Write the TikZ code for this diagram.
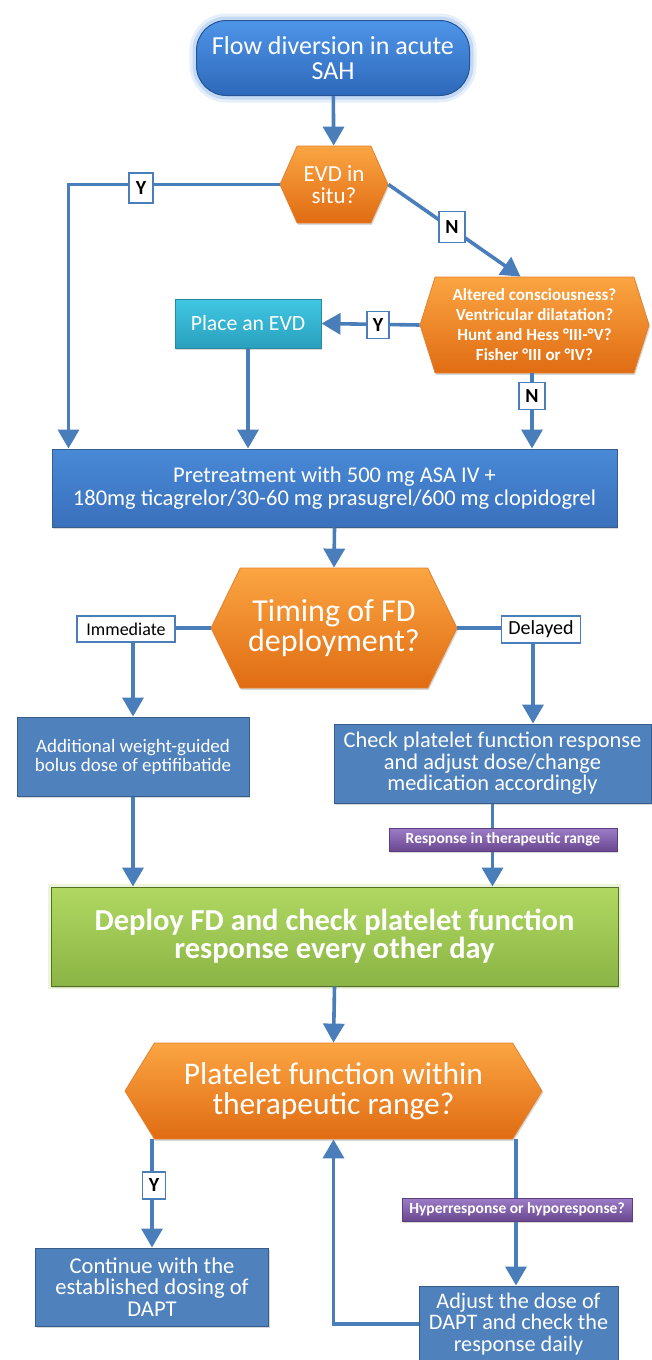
\documentclass[tikz,border=0pt]{standalone}
\usepackage{fontspec}
\setmainfont{Carlito}
\usetikzlibrary{arrows.meta,shapes.symbols,shadows,calc}
\newcommand{\myfs}[2]{\fontsize{#1}{#2}\selectfont}
\definecolor{lineblue}{HTML}{4A7EBB}
\definecolor{boxblue}{HTML}{4F81BD}
\definecolor{boxblueb}{HTML}{385D8A}
\definecolor{pretop}{HTML}{4889D6}
\definecolor{prebot}{HTML}{3A70BC}
\definecolor{starttop}{HTML}{4E95E8}
\definecolor{startbot}{HTML}{2E68BA}
\definecolor{startglow}{HTML}{9CC0EE}
\definecolor{orgtop}{HTML}{FBA542}
\definecolor{orgbot}{HTML}{E06C12}
\definecolor{orgb}{HTML}{E38230}
\definecolor{tealtop}{HTML}{40C7E3}
\definecolor{tealbot}{HTML}{29A0BD}
\definecolor{tealb}{HTML}{2A88A0}
\definecolor{grntop}{HTML}{B0D862}
\definecolor{grnbot}{HTML}{8AB444}
\definecolor{grnb}{HTML}{556F28}
\definecolor{purtop}{HTML}{9E7DC8}
\definecolor{purbot}{HTML}{6A4890}
\definecolor{purb}{HTML}{5A3F80}
\tikzset{
  shd/.style={drop shadow={shadow xshift=1.2pt,shadow yshift=-1.8pt,opacity=0.3}},
  bluebox/.style={rectangle, fill=boxblue, draw=boxblueb, line width=1pt, text=white, align=center, inner sep=2pt, shd},
  prebox/.style={rectangle, top color=pretop, bottom color=prebot, draw=boxblueb, line width=1pt, text=white, align=center, inner sep=2pt, shd},
  startbox/.style={rectangle, rounded corners=30pt, top color=starttop, bottom color=startbot, draw=startbot!80!black, line width=1pt, text=white, align=center,
     preaction={draw=startglow, line width=14pt, opacity=0.25},
     preaction={draw=startglow, line width=8pt, opacity=0.45}},
  hexbox/.style={signal, signal to=west and east, top color=orgtop, bottom color=orgbot, draw=orgb, line width=0.8pt, text=white, align=center, inner sep=1pt, shd},
  tealbox/.style={rectangle, top color=tealtop, bottom color=tealbot, draw=tealb, line width=1pt, text=white, align=center, shd},
  greenbox/.style={rectangle, top color=grntop, bottom color=grnbot, draw=grnb, line width=1pt, text=white, align=center, shd,
     preaction={draw=grntop!60!white, line width=6pt, opacity=0.4}},
  purbox/.style={rectangle, top color=purtop, bottom color=purbot, draw=purb, line width=0.8pt, text=white, align=center, inner sep=1pt, font=\myfs{15.5}{16}\bfseries, shd},
  lab/.style={rectangle, fill=white, draw=lineblue, line width=1.6pt, text=black, inner sep=1pt, align=center},
  yn/.style={lab, font=\myfs{20}{20}\bfseries},
  conn/.style={draw=lineblue, line width=3.6pt, -{Triangle[width=21pt,length=19pt]}},
}
\begin{document}
\begin{tikzpicture}[x=1pt,y=-1pt]
\useasboundingbox[fill=white] (0,0) rectangle (651,1360);
% nodes
\node[startbox, minimum width=273pt, minimum height=75pt, font=\myfs{26}{25}] (start) at (333,58) {Flow diversion in acute\\SAH};
\node[hexbox, signal pointer angle=132, minimum width=108pt, minimum height=77pt, font=\myfs{23}{22}] (evd) at (334,184.5) {EVD in\\situ?};
\node[hexbox, signal pointer angle=145, minimum width=229pt, minimum height=96pt, font=\myfs{17}{20}\bfseries] (alt) at (534.5,325) {Altered consciousness?\\Ventricular dilatation?\\Hunt and Hess °III-°V?\\Fisher °III or °IV?};
\node[tealbox, minimum width=146pt, minimum height=49pt, font=\myfs{21.7}{22}] (place) at (248,323.5) {Place an EVD};
\node[prebox, minimum width=565pt, minimum height=78pt, font=\myfs{22.5}{23}] (pre) at (334.5,488) {Pretreatment with 500 mg ASA IV +\\180mg ticagrelor/30-60 mg prasugrel/600 mg clopidogrel};
\node[hexbox, signal pointer angle=128, minimum width=246pt, minimum height=120pt, font=\myfs{32}{30}] (timing) at (334,628) {Timing of FD\\deployment?};
\node[bluebox, minimum width=232pt, minimum height=79pt, font=\myfs{19}{19}] (add) at (133,756.5) {Additional weight-guided\\bolus dose of eptifibatide};
\node[bluebox, minimum width=317pt, minimum height=79pt, font=\myfs{22.4}{21.5}] (check) at (492.5,763.5) {Check platelet function response\\and adjust dose/change\\medication accordingly};
\node[greenbox, minimum width=567pt, minimum height=99pt, font=\myfs{30.5}{28}\bfseries] (green) at (334.5,936.5) {Deploy FD and check platelet function\\response every other day};
\node[hexbox, signal pointer angle=117, minimum width=417pt, minimum height=96pt, font=\myfs{31.5}{30}] (plat) at (333.5,1091) {Platelet function within\\therapeutic range?};
\node[bluebox, minimum width=233pt, minimum height=78pt, font=\myfs{22.6}{21.5}] (cont) at (152,1287) {Continue with the\\established dosing of\\DAPT};
\node[bluebox, minimum width=199pt, minimum height=76pt, font=\myfs{22.2}{21.5}] (adj) at (518.5,1324) {Adjust the dose of\\DAPT and check the\\response daily};
% helper coordinates
\coordinate (cY1) at (68.5,184.5);
\coordinate (cImm) at (133,628);
\coordinate (cDel) at (533,628);
% connectors
\draw[conn] (start) -- (evd);
\draw[conn] (evd.west) -- (cY1) -- (cY1 |- pre.north);
\draw[conn] (evd.east) -- ([xshift=-14pt]alt.north);
\draw[conn] (alt.west) -- (place.east);
\draw[conn] (place.south) -- (place.south |- pre.north);
\draw[conn] ([xshift=-2.5pt]alt.south) -- ([xshift=-2.5pt]alt.south |- pre.north);
\draw[conn] (pre.south) -- (timing.north);
\draw[conn] (timing.west) -- (cImm) -- (add.north);
\draw[conn] (timing.east) -- (cDel) -- (cDel |- check.north);
\draw[conn] (add.south) -- (add.south |- green.north);
\draw[conn] (check.south) -- (check.south |- green.north);
\draw[conn] (green.south) -- (plat.north);
\draw[conn] (cont.north |- plat.south) -- (cont.north);
\draw[conn] ([xshift=-2.5pt]adj.north |- plat.south) -- ([xshift=-2.5pt]adj.north);
\draw[conn] (adj.west) -- (plat.south |- adj.west) -- (plat.south);
% labels
\node[yn, minimum width=24pt, minimum height=30pt] (y1) at (141,188) {Y};
\node[yn, minimum width=26pt, minimum height=31pt] (n1) at (452,227) {N};
\node[yn, minimum width=22pt, minimum height=27pt] (y2) at (378,325) {Y};
\node[yn, minimum width=26pt, minimum height=27pt] (n2) at (532,396) {N};
\node[lab, minimum width=98pt, minimum height=26pt, font=\myfs{18}{18}] (imm) at (126,629) {Immediate};
\node[lab, minimum width=79pt, minimum height=27pt, font=\myfs{20}{20}] (del) at (541,629.5) {Delayed};
\node[purbox, minimum width=228pt, minimum height=23pt] (resp) at (503,839.5) {Response in therapeutic range};
\node[purbox, minimum width=230pt, minimum height=23pt] (hyp) at (517,1209.5) {Hyperresponse or hyporesponse?};
\node[yn, minimum width=23pt, minimum height=27pt] (y3) at (154,1185.5) {Y};
\end{tikzpicture}
\end{document}
